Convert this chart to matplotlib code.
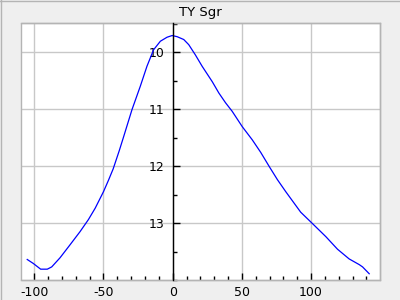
import matplotlib
matplotlib.use("Agg")
import matplotlib.pyplot as plt
from matplotlib.patches import Rectangle
from matplotlib.ticker import MultipleLocator

plt.rcParams['axes.unicode_minus'] = False

title = "TY Sgr"
phase = [-105.1, -100.7, -95.4, -90.6, -87.4, -81.4, -74.1, -66.9, -60.9, -56, -50, -46.4,
         -43, -38.6, -35.5, -29.4, -23.4, -18.6, -13.8, -8.9, -4.1, -0.4, 3.2, 8, 11.6,
         16.4, 21.3, 28.6, 33.4, 38.2, 43, 50.3, 57.5, 63.6, 69.8, 75.7, 81.7, 87.7, 92.5,
         101, 110.7, 119.1, 127.5, 134.8, 137.2, 142]
mag = [13.64, 13.71, 13.81, 13.81, 13.77, 13.61, 13.38, 13.15, 12.94, 12.74, 12.45, 12.25,
       12.05, 11.73, 11.49, 11.01, 10.60, 10.25, 9.96, 9.81, 9.74, 9.71, 9.73, 9.78, 9.87,
       10.05, 10.25, 10.52, 10.72, 10.89, 11.04, 11.31, 11.54, 11.76, 12.01, 12.24, 12.45, 12.65, 12.81,
       13.01, 13.24, 13.46, 13.63, 13.73, 13.77, 13.89]
xticks = [-100, -50, 0, 50, 100]
yticks = [10, 11, 12, 13]

fig = plt.figure(figsize=(4, 3), dpi=100, facecolor='#efefef')
ax = fig.add_axes([21/400, 20/300, 359/400, 257/300])
ax.set_facecolor('white')

ax.plot(phase, mag, color='blue', lw=0.9, zorder=3)

ax.set_xlim(-109.6, 149.8)
ax.set_ylim(14.0, 9.49)
ax.set_xticks(xticks)
ax.set_yticks(yticks)
ax.set_xticklabels([str(v) for v in xticks])
ax.set_yticklabels([str(v) for v in yticks])
ax.xaxis.set_minor_locator(MultipleLocator(10))
ax.yaxis.set_minor_locator(MultipleLocator(0.5))
ax.grid(True, which='major', color='#c8c8c8', lw=1, zorder=0)
ax.set_axisbelow(True)

for s in ['top', 'right', 'bottom']:
    ax.spines[s].set_color('#b4b4b4')
    ax.spines[s].set_linewidth(1)
ax.spines['left'].set_position(('data', 0))
ax.spines['left'].set_color('black')
ax.spines['left'].set_linewidth(1)
ax.spines['left'].set_zorder(4)
ax.add_patch(Rectangle((0, 0), 1, 1, transform=ax.transAxes, fill=False,
                       edgecolor='#b4b4b4', lw=1, zorder=2, clip_on=False))

ax.tick_params(axis='both', which='both', direction='in', labelsize=9, color='black')
ax.tick_params(axis='both', which='major', length=5, width=1)
ax.tick_params(axis='both', which='minor', length=3, width=1)
ax.tick_params(axis='x', pad=4)
ax.tick_params(axis='y', pad=6)

ax.set_title(title, fontsize=9.5, pad=5)

fig.add_artist(plt.Line2D([0.5/400, 0.5/400], [0, 1], transform=fig.transFigure, color='#b4b4b4', lw=1))
fig.add_artist(plt.Line2D([0, 1], [1 - 0.5/300, 1 - 0.5/300], transform=fig.transFigure, color='#b4b4b4', lw=1))

fig.savefig('out.png', dpi=100, facecolor=fig.get_facecolor())
